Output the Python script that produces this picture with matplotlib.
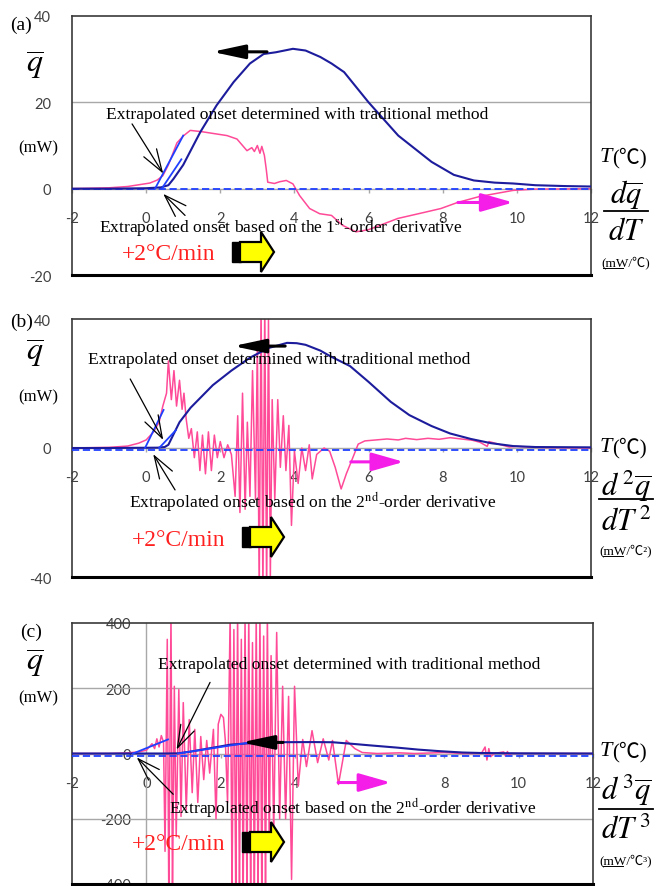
import matplotlib
matplotlib.use('Agg')
import matplotlib.pyplot as plt
from matplotlib.patches import Polygon, Rectangle
from matplotlib.lines import Line2D

plt.rcParams['mathtext.fontset'] = 'stix'
plt.rcParams['axes.unicode_minus'] = False

# ---------------- data ----------------
xticks = [-2, 0, 2, 4, 6, 8, 10, 12]
yticks_a = [-20, 0, 20, 40]
yticks_b = [-40, 0, 40]
yticks_c = [-400, -200, 0, 200, 400]
grid_a = [20]
grid_c = [-200, 200]

# q-bar (mW) curves
q_a_pts = [(-2, 0), (-1, 0), (0, 0.1), (0.4, 0.3), (0.6, 0.8), (0.74, 2.3), (1.0, 5.5), (1.46, 13.1),
           (1.9, 19.3), (2.36, 24.7), (2.8, 29), (3.17, 31.2), (3.5, 31.6), (3.96, 32.4), (4.3, 32.0),
           (4.7, 30.5), (5.0, 29), (5.34, 27), (6.0, 20), (6.8, 12.3), (7.7, 6.2), (8.3, 3.2),
           (8.84, 1.9), (9.4, 1.4), (9.9, 1.2), (10.5, 0.8), (11.3, 0.6), (12, 0.5)]
q_b_pts = [(-2, 0), (-1, 0), (0.3, 0.1), (0.5, 0.3), (0.6, 1.0), (0.75, 4.5), (0.9, 8), (1.2, 12.5),
           (1.5, 16), (1.8, 19.5), (2.3, 24), (2.8, 28), (3.3, 31), (3.8, 32.6), (4.06, 32.5),
           (4.3, 32), (4.7, 30.2), (4.96, 28.5), (5.5, 25.4), (6.0, 20.5), (6.6, 14.3), (7.1, 10.2),
           (7.7, 6.8), (8.2, 4.5), (8.76, 2.8), (9.3, 1.5), (9.9, 0.6), (10.5, 0.3), (12, 0.2)]
q_c_pts = [(-2, 0), (0.5, 0), (0.85, 0.5), (1.2, 6), (1.6, 14), (2.0, 22), (2.25, 27), (2.7, 31),
           (3.2, 33.5), (3.7, 34.7), (4.5, 35), (5.0, 34.5), (5.5, 30), (6.0, 25), (6.74, 18),
           (7.3, 12), (7.9, 7), (8.5, 3), (9.0, 1.5), (10, 0.5), (12, 0)]

# derivative curves (pink)
d1_a_pts = [(-2, 0), (-1, 0.2), (-0.5, 0.5), (-0.2, 0.9), (0.1, 1.3), (0.3, 2.0), (0.45, 3.0),
            (0.6, 5.5), (0.83, 10.6), (1.0, 12.2), (1.19, 13.5), (1.5, 13.2), (1.8, 12.8),
            (2.18, 12.3), (2.45, 11.5), (2.72, 8.8), (2.85, 9.5), (2.92, 8.6), (3.0, 10.0),
            (3.07, 8.2), (3.12, 9.8), (3.19, 7.7), (3.24, 4.5), (3.28, 1.5), (3.46, 1.2),
            (3.6, 1.6), (3.78, 1.9), (3.96, 1.1), (4.14, -1.6), (4.41, -4.6), (4.68, -5.8),
            (5.0, -6.2), (5.3, -8.5), (5.66, -10), (6.0, -9.5), (6.79, -6.9), (7.5, -5.5),
            (7.95, -4.6), (8.4, -3.2), (9.0, -1.8), (9.9, -0.4), (10.5, -0.1), (12, 0)]
d2_b_pts = [(-2.0, 0), (-1.0, 0.2), (-0.5, 0.6), (-0.2, 1.5), (0.0, 2.5), (0.2, 5), (0.35, 8),
            (0.45, 13), (0.55, 17), (0.6, 27), (0.68, 15), (0.75, 24), (0.82, 13), (0.9, 21),
            (0.97, 12), (1.02, 17), (1.08, 9), (1.15, 3), (1.22, 6), (1.3, -3), (1.38, 5),
            (1.45, -7), (1.52, 4), (1.6, -8), (1.68, 5), (1.76, -7), (1.84, 4), (1.92, -3),
            (2.0, 2), (2.1, -3), (2.2, 1), (2.3, -2), (2.4, -15), (2.47, 10), (2.53, -20),
            (2.6, 17), (2.67, -19), (2.73, 8), (2.8, -15), (2.87, 24), (2.95, -16), (3.0, 33),
            (3.05, -45), (3.1, 45), (3.15, -45), (3.2, 45), (3.25, -45), (3.3, 40), (3.35, -40),
            (3.4, 15), (3.47, -16), (3.55, 15), (3.62, -6), (3.7, 10), (3.77, -7), (3.85, 7),
            (3.92, -24), (4.0, -1), (4.1, -11), (4.2, 0), (4.3, -7), (4.4, 1), (4.48, -9.6),
            (4.6, -2), (4.8, 0), (4.95, -1), (5.1, -6), (5.26, -12.7), (5.4, -8), (5.53, -4.3),
            (5.72, 1.2), (5.9, 2.2), (6.2, 2.5), (6.5, 2.8), (6.8, 2.5), (7.0, 3.0), (7.3, 2.6),
            (7.6, 3.0), (7.9, 2.7), (8.2, 3.2), (8.5, 2.8), (8.8, 2.4), (9.0, 1.8), (9.2, 0.5),
            (9.25, 2), (9.5, 1.2), (9.8, 0.3), (10.0, 0.5), (10.5, 0.2), (11.0, 0.1), (12.0, 0)]
d3_c_pts = [(-2, 0), (-1, 0), (-0.5, 2), (-0.2, 5), (0.0, 10), (0.15, 30), (0.22, 15), (0.28, 45),
            (0.34, 20), (0.4, 55), (0.46, 35), (0.5, -300), (0.56, 350), (0.6, -430), (0.66, 430),
            (0.7, -430), (0.75, 206), (0.8, -255), (0.87, 196), (0.93, -193), (0.99, 156),
            (1.07, -172), (1.15, 104), (1.23, -120), (1.3, 74), (1.38, -150), (1.46, 52),
            (1.54, -80), (1.62, 40), (1.7, -60), (1.8, 74), (1.87, -200), (1.93, 90), (2.0, 120),
            (2.07, 110), (2.12, 40), (2.18, -150), (2.25, 430), (2.3, -430), (2.35, 380),
            (2.4, -430), (2.45, 430), (2.5, -430), (2.55, 350), (2.6, -430), (2.65, 430),
            (2.7, -430), (2.75, 430), (2.8, -430), (2.85, 340), (2.9, -430), (2.95, 430),
            (3.0, -430), (3.05, 430), (3.1, -430), (3.15, 360), (3.2, -430), (3.25, 430),
            (3.3, -300), (3.35, 300), (3.42, -250), (3.5, 371), (3.58, -200), (3.66, 206),
            (3.74, -200), (3.82, 175), (3.9, -386), (3.98, 206), (4.08, -100), (4.2, 43),
            (4.3, -40), (4.45, 70), (4.6, -28), (4.75, 45), (4.9, -20), (5.0, 40), (5.16, -95),
            (5.37, 40), (5.6, 15), (5.8, 3), (6.2, 0), (6.8, 2), (7.2, 0), (8.0, 3), (8.5, 0),
            (9.0, 0), (9.1, 20), (9.15, -20), (9.2, 15), (9.25, -10), (9.35, 0), (9.6, 5),
            (9.65, -8), (9.7, 6), (9.75, -5), (9.8, 0), (12, 0)]

# tangent / baseline construction lines
tan_a = [([0.24, 1.0], [0.0, 12.3]), ([0.42, 0.95], [0.0, 6.8])]
tan_b = [([-0.03, 0.47], [0.0, 11.8]), ([0.35, 0.8], [0.0, 5.5])]
tan_c = [([-0.36, 0.58], [0.0, 43.0]), ([0.85, 2.97], [0.0, 37.0])]
baseline = {'a': 0.0, 'b': -0.6, 'c': -8.0}

# black/magenta direction arrows (tail, head) in data units
dir_black = {'a': ((3.26, 31.7), (1.78, 31.7)), 'b': ((3.75, 31.6), (2.35, 31.6)),
             'c': ((3.67, 34.0), (2.55, 34.0))}
dir_mag = {'a': ((8.41, -3.2), (9.9, -3.2)), 'b': ((5.52, -4.3), (6.95, -4.3)),
           'c': ((5.15, -89), (6.57, -89))}
# onset pointer arrows: (tail, tip)
onset_trad = {'a': ((-0.38, 15), (0.46, 3.5)), 'b': ((-0.43, 21.4), (0.46, 2.5)),
              'c': ((1.71, 218), (0.81, 12))}
onset_deriv = {'a': ((1.05, -6.2), (0.46, -1.2)), 'b': ((0.78, -13), (0.19, -1.9)),
               'c': ((0.72, -125), (-0.26, -12))}

# ---------------- figure ----------------
W, H = 662, 887
fig = plt.figure(figsize=(W / 100, H / 100), dpi=100)

SERIF = ['Liberation Serif', 'DejaVu Serif', 'DejaVu Sans']
CELS = ['Liberation Serif', 'Noto Sans CJK JP', 'DejaVu Sans']
TICKFONT = 'Lato'
NAVY = '#1c1c9c'
BRIGHT = '#2040ff'
PINK = '#ff4a98'
MAG = '#f41ee8'
GRAY = '#a8a8a8'
TICKC = '#404040'


def rect(l, t, r, b):
    return [l / W, 1 - b / H, (r - l) / W, (b - t) / H]


def fx(x):
    return x / W


def fy(y):
    return 1 - y / H


def ft(x, y, s, **kw):
    return fig.text(fx(x), fy(y), s, **kw)


def split(pts):
    return [p[0] for p in pts], [p[1] for p in pts]


def setup(ax, ylim, yticks, grid_y, ysec=False):
    ax.set_xlim(-2, 12)
    ax.set_ylim(*ylim)
    ax.set_xticks([])
    for s in ax.spines.values():
        s.set_color('#3a3a3a')
        s.set_linewidth(1.2)
    ax.spines['bottom'].set_color('black')
    ax.spines['bottom'].set_linewidth(2.2)
    for g in grid_y:
        ax.axhline(g, color=GRAY, lw=1, zorder=0.5)
    zf = (0 - ylim[0]) / (ylim[1] - ylim[0])
    sec = ax.secondary_xaxis(zf)
    sec.set_alignment('bottom')
    sec.set_xticks(xticks)
    sec.tick_params(axis='x', direction='out', length=3, width=1, color=GRAY, pad=13,
                    labelsize=10.5, labelcolor=TICKC)
    sec.spines['bottom'].set_color(GRAY)
    sec.spines['bottom'].set_linewidth(1.0)
    for lab in sec.get_xticklabels():
        lab.set_fontfamily(TICKFONT)
    if ysec:
        ax.set_yticks([])
        secy = ax.secondary_yaxis(2 / 14)
        secy.set_yticks(yticks)
        secy.tick_params(axis='y', length=0, pad=11, labelsize=10.5, labelcolor=TICKC)
        secy.spines['left'].set_color(GRAY)
        secy.spines['left'].set_linewidth(1.0)
        for lab in secy.get_yticklabels():
            lab.set_fontfamily(TICKFONT)
    else:
        ax.set_yticks(yticks)
        ax.tick_params(axis='y', length=0, pad=15, labelsize=10.5, labelcolor=TICKC)
        for lab in ax.get_yticklabels():
            lab.set_fontfamily(TICKFONT)


def draw_panel(ax, key, qpts, dpts, tans):
    x, y = split(dpts)
    ax.plot(x, y, color=PINK, lw=1.1, zorder=2)
    ax.axhline(baseline[key], color=BRIGHT, lw=1.3, ls=(0, (4, 2)), zorder=3)
    x, y = split(qpts)
    ax.plot(x, y, color=NAVY, lw=1.5, zorder=4)
    for tx, ty in tans:
        ax.plot(tx, ty, color=BRIGHT, lw=1.3, zorder=4)
    (t0, t1) = dir_black[key]
    ax.annotate('', xy=t1, xytext=t0,
                arrowprops=dict(arrowstyle='-|>,head_length=1.4,head_width=0.3', color='black',
                                lw=2.2, mutation_scale=14, shrinkA=0, shrinkB=0), zorder=6)
    (m0, m1) = dir_mag[key]
    ax.annotate('', xy=m1, xytext=m0,
                arrowprops=dict(arrowstyle='-|>,head_length=1.4,head_width=0.4', color=MAG,
                                lw=2.2, mutation_scale=14, shrinkA=0, shrinkB=0), zorder=6)
    for d in (onset_trad, onset_deriv):
        tail, tip = d[key]
        ax.annotate('', xy=tip, xytext=tail,
                    arrowprops=dict(arrowstyle='->,head_length=0.9,head_width=0.3', color='black',
                                    lw=0.9, mutation_scale=18, shrinkA=0, shrinkB=0), zorder=6)


def block_arrow(x0, yc):
    fig.add_artist(Rectangle((fx(x0), fy(yc + 10)), 9 / W, 20 / H, transform=fig.transFigure,
                             fc='black', ec='black', lw=1))
    pts = [(x0 + 8, yc - 10), (x0 + 29, yc - 10), (x0 + 29, yc - 20), (x0 + 42, yc),
           (x0 + 29, yc + 20), (x0 + 29, yc + 10), (x0 + 8, yc + 10)]
    fig.add_artist(Polygon([(fx(a), fy(b)) for a, b in pts], closed=True,
                           transform=fig.transFigure, fc='#ffff00', ec='black', lw=1.6))


def right_labels(yT, ynum, yline, xl0, xl1, yden, yunit, num, den, unit):
    ft(612, yT, 'T', ha='right', va='center', fontsize=16, family=SERIF, style='italic')
    ft(612, yT, '(℃)', ha='left', va='center', fontsize=15, family=CELS)
    ft(626, ynum, num, ha='center', va='center', fontsize=22)
    fig.add_artist(Line2D([fx(xl0), fx(xl1)], [fy(yline), fy(yline)], transform=fig.transFigure,
                          color='black', lw=1.3))
    ft(626, yden, den, ha='center', va='center', fontsize=22)
    ft(626, yunit, unit, ha='center', va='center', fontsize=9.5, family=CELS)


def left_labels(tag, xtag, ytag, yq, ymw):
    ft(xtag, ytag, tag, ha='left', va='center', fontsize=14, family=SERIF)
    ft(35, yq, r'$\overline{q}$', ha='center', va='center', fontsize=23)
    ft(38, ymw, '(mW)', ha='center', va='center', fontsize=12, family=SERIF)


TXT_TRAD = 'Extrapolated onset determined with traditional method'
TXT_D1 = r'Extrapolated onset based on the 1$^{\mathrm{st}}$-order derivative'
TXT_D2 = r'Extrapolated onset based on the 2$^{\mathrm{nd}}$-order derivative'
RATE = '+2°C/min'
FS = 12.6

# ---- panel (a)
axa = fig.add_axes(rect(72, 17, 591, 276))
setup(axa, (-20, 40), yticks_a, grid_a)
draw_panel(axa, 'a', q_a_pts, d1_a_pts, tan_a)
ft(297, 115, TXT_TRAD, ha='center', va='center', fontsize=FS, family=SERIF)
ft(281, 228, TXT_D1, ha='center', va='center', fontsize=FS, family=SERIF)
ft(122, 255, RATE, ha='left', va='center', fontsize=17, family=SERIF, color='#ff2020')
block_arrow(232, 253)
left_labels('(a)', 10, 25, 65, 148)
right_labels(158, 195, 212, 604, 648, 232, 263, r'$d\overline{q}$', r'$dT$', '(mW/℃)')

# ---- panel (b)
axb = fig.add_axes(rect(72, 320, 591, 578))
setup(axb, (-40, 40), yticks_b, [])
draw_panel(axb, 'b', q_b_pts, d2_b_pts, tan_b)
ft(279, 360, TXT_TRAD, ha='center', va='center', fontsize=FS, family=SERIF)
ft(313, 502, TXT_D2, ha='center', va='center', fontsize=FS, family=SERIF)
ft(132, 540, RATE, ha='left', va='center', fontsize=17, family=SERIF, color='#ff2020')
block_arrow(242, 538)
left_labels('(b)', 10, 322, 353, 397)
right_labels(448, 486, 500, 599, 653, 522, 551, r'$d^{\,2}\overline{q}$', r'$dT^{\,2}$', '(mW/℃²)')

# ---- panel (c)
axc = fig.add_axes(rect(72, 624, 593, 885))
setup(axc, (-400, 400), yticks_c, grid_c, ysec=True)
draw_panel(axc, 'c', q_c_pts, d3_c_pts, tan_c)
ft(349, 665, TXT_TRAD, ha='center', va='center', fontsize=FS, family=SERIF)
ft(353, 808, TXT_D2, ha='center', va='center', fontsize=FS, family=SERIF)
ft(132, 845, RATE, ha='left', va='center', fontsize=17, family=SERIF, color='#ff2020')
block_arrow(242, 843)
left_labels('(c)', 20, 632, 663, 698)
right_labels(752, 790, 810, 599, 653, 830, 861, r'$d^{\,3}\overline{q}$', r'$dT^{\,3}$', '(mW/℃³)')

# underline under "mW" in unit labels
for yu in (269, 557, 867):
    fig.add_artist(Line2D([fx(603), fx(623)], [fy(yu), fy(yu)], transform=fig.transFigure,
                          color='black', lw=0.7))

fig.savefig('out.png', dpi=100)
